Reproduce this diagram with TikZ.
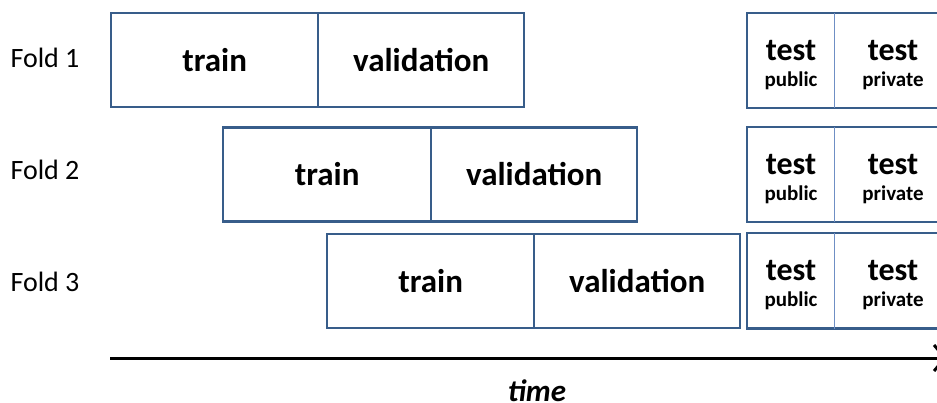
\documentclass[tikz,border=0pt]{standalone}
\usepackage{fontspec}
\setmainfont{Carlito}
\usetikzlibrary{arrows.meta}
\definecolor{boxblue}{HTML}{385D8A}
\definecolor{divblue}{HTML}{6F8FC4}
\tikzset{
  seg/.style={draw=boxblue, line width=2.4pt, inner sep=0pt, minimum height=94pt,
    font=\bfseries\fontsize{33}{36}\selectfont, anchor=west},
  tseg/.style={inner sep=0pt, minimum height=95pt, anchor=west},
  testmain/.style={font=\bfseries\fontsize{32}{32}\selectfont, anchor=base, inner sep=0pt},
  testsub/.style={font=\bfseries\fontsize{21}{21}\selectfont, anchor=base, inner sep=0pt},
  foldlbl/.style={font=\fontsize{28}{30}\selectfont},
}
\begin{document}
\begin{tikzpicture}[x=1pt,y=-1pt]
\useasboundingbox (0,0) rectangle (937,403);
\clip (0,0) rectangle (937,403);
% fold labels
\node[foldlbl] (f1) at (45,58) {Fold 1};
\node[foldlbl] (f2) at (45,170) {Fold 2};
\node[foldlbl] (f3) at (45,282) {Fold 3};
% fold 1
\node[seg, minimum width=207pt] (tr1) at (110,60) {train};
\node[seg, minimum width=206pt] (va1) at (317,60) {validation};
% fold 2
\node[seg, minimum width=208pt] (tr2) at (222,174.5) {train};
\node[seg, minimum width=206pt] (va2) at (430,174.5) {validation};
% fold 3
\node[seg, minimum width=207pt] (tr3) at (326,281) {train};
\node[seg, minimum width=206pt] (va3) at (533,281) {validation};
% test boxes
\foreach \i/\y in {1/60.5,2/174.5,3/281}{
  \node[tseg, minimum width=87pt] (pub\i) at (747,\y) {};
  \node[tseg, minimum width=118pt] (pri\i) at (834,\y) {};
  \node[testmain] (pubt\i) at (791,\y) {test};
  \node[testsub] (pubs\i) at (791,\y+26) {public};
  \node[testmain] (prit\i) at (893,\y) {test};
  \node[testsub] (pris\i) at (893,\y+26) {private};
  \draw[boxblue, line width=2.4pt] (pub\i.north west) rectangle (pri\i.south east);
  \draw[divblue, line width=1.6pt] (pub\i.north east) -- (pub\i.south east);
}
% time axis
\coordinate (t0) at (110,358);
\coordinate (t1) at (947,358);
\draw[line width=3pt, -{Straight Barb[length=11pt,width=26pt,line width=3pt]}] (t0) -- (t1);
\node[font=\bfseries\itshape\fontsize{31}{33}\selectfont, anchor=base, inner sep=0pt] (time) at (537,401) {time};
\end{tikzpicture}
\end{document}
